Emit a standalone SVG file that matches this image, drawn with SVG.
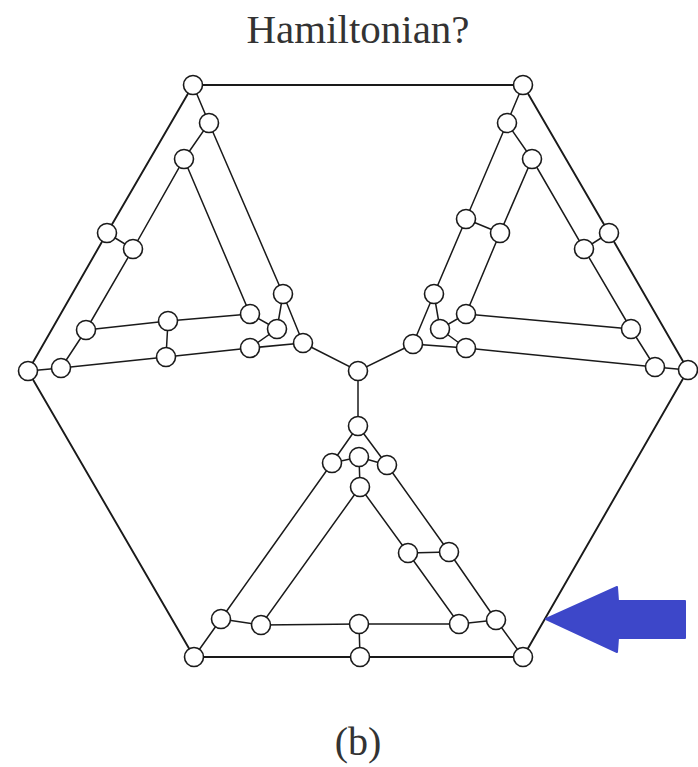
<svg xmlns="http://www.w3.org/2000/svg" width="698" height="767" viewBox="0 0 698 767">
<style>
.e{stroke:#1a1a1a;stroke-width:1.5;fill:none;stroke-linecap:round}
.o{stroke:#1a1a1a;stroke-width:1.9;fill:none}
.n circle{fill:#fff;stroke:#1a1a1a;stroke-width:1.6}
.t{font-family:"Liberation Serif","DejaVu Serif",serif;fill:#333;text-anchor:middle}
</style>
<rect width="698" height="767" fill="#fff"/>
<text class="t" x="358" y="43" font-size="40" textLength="223" lengthAdjust="spacingAndGlyphs">Hamiltonian?</text>
<text class="t" x="358" y="755" font-size="40">(b)</text>
<g id="connectors">
<!-- outer hexagon -->
<polyline class="o" points="193,85 523,85"/>
<polyline class="o" points="193,85 107,233 28,371 194,657 523,657 688,370 609,233 523,85"/>
<!-- center -->
<polyline class="e" points="303,343 358,371 413,344"/>
<polyline class="e" points="358,371 358,426"/>
<!-- top-left gadget -->
<polyline class="e" points="193,85 209,123 184,159 133,249 107,233"/>
<polyline class="e" points="209,123 283,294 303,343"/>
<polyline class="e" points="184,159 250,314 277,329 283,294"/>
<polyline class="e" points="133,249 86,330 61,368 28,371"/>
<polyline class="e" points="86,330 168,321 250,314"/>
<polyline class="e" points="168,321 166,357"/>
<polyline class="e" points="61,368 166,357 250,348 277,329"/>
<polyline class="e" points="250,348 303,343"/>
<!-- top-right gadget -->
<polyline class="e" points="523,85 507,123 532,159 584,249 609,233"/>
<polyline class="e" points="507,123 466,219 500,233 532,159"/>
<polyline class="e" points="466,219 434,294 413,344 466,348 655,367 688,370"/>
<polyline class="e" points="434,294 440,329 466,314 500,233"/>
<polyline class="e" points="440,329 466,348"/>
<polyline class="e" points="466,314 631,329 655,367"/>
<polyline class="e" points="584,249 631,329"/>
<!-- bottom gadget -->
<polyline class="e" points="358,426 332,463 221,619 194,657"/>
<polyline class="e" points="358,426 387,465 449,552 496,620 523,657"/>
<polyline class="e" points="332,463 359,457 387,465"/>
<polyline class="e" points="359,457 360,487 261,625 221,619"/>
<polyline class="e" points="360,487 408,553 449,552"/>
<polyline class="e" points="408,553 459,624 496,620"/>
<polyline class="e" points="261,625 359,624 459,624"/>
<polyline class="e" points="359,624 360,657"/>
</g>
<g class="n">
<g id="n1"><circle cx="193" cy="85" r="9.5"/></g>
<g id="n2"><circle cx="209" cy="123" r="9.5"/></g>
<g id="n3"><circle cx="184" cy="159" r="9.5"/></g>
<g id="n4"><circle cx="107" cy="233" r="9.5"/></g>
<g id="n5"><circle cx="133" cy="249" r="9.5"/></g>
<g id="n6"><circle cx="283" cy="294" r="9.5"/></g>
<g id="n7"><circle cx="250" cy="314" r="9.5"/></g>
<g id="n8"><circle cx="277" cy="329" r="9.5"/></g>
<g id="n9"><circle cx="303" cy="343" r="9.5"/></g>
<g id="n10"><circle cx="86" cy="330" r="9.5"/></g>
<g id="n11"><circle cx="168" cy="321" r="9.5"/></g>
<g id="n12"><circle cx="166" cy="357" r="9.5"/></g>
<g id="n13"><circle cx="250" cy="348" r="9.5"/></g>
<g id="n14"><circle cx="61" cy="368" r="9.5"/></g>
<g id="n15"><circle cx="28" cy="371" r="9.5"/></g>
<g id="n16"><circle cx="358" cy="371" r="9.5"/></g>
<g id="n17"><circle cx="523" cy="85" r="9.5"/></g>
<g id="n18"><circle cx="507" cy="123" r="9.5"/></g>
<g id="n19"><circle cx="532" cy="159" r="9.5"/></g>
<g id="n20"><circle cx="609" cy="233" r="9.5"/></g>
<g id="n21"><circle cx="584" cy="249" r="9.5"/></g>
<g id="n22"><circle cx="466" cy="219" r="9.5"/></g>
<g id="n23"><circle cx="500" cy="233" r="9.5"/></g>
<g id="n24"><circle cx="434" cy="294" r="9.5"/></g>
<g id="n25"><circle cx="466" cy="314" r="9.5"/></g>
<g id="n26"><circle cx="440" cy="329" r="9.5"/></g>
<g id="n27"><circle cx="413" cy="344" r="9.5"/></g>
<g id="n28"><circle cx="466" cy="348" r="9.5"/></g>
<g id="n29"><circle cx="631" cy="329" r="9.5"/></g>
<g id="n30"><circle cx="655" cy="367" r="9.5"/></g>
<g id="n31"><circle cx="688" cy="370" r="9.5"/></g>
<g id="n32"><circle cx="358" cy="426" r="9.5"/></g>
<g id="n33"><circle cx="332" cy="463" r="9.5"/></g>
<g id="n34"><circle cx="359" cy="457" r="9.5"/></g>
<g id="n35"><circle cx="387" cy="465" r="9.5"/></g>
<g id="n36"><circle cx="360" cy="487" r="9.5"/></g>
<g id="n37"><circle cx="408" cy="553" r="9.5"/></g>
<g id="n38"><circle cx="449" cy="552" r="9.5"/></g>
<g id="n39"><circle cx="221" cy="619" r="9.5"/></g>
<g id="n40"><circle cx="261" cy="625" r="9.5"/></g>
<g id="n41"><circle cx="359" cy="624" r="9.5"/></g>
<g id="n42"><circle cx="459" cy="624" r="9.5"/></g>
<g id="n43"><circle cx="496" cy="620" r="9.5"/></g>
<g id="n44"><circle cx="194" cy="657" r="9.5"/></g>
<g id="n45"><circle cx="360" cy="657" r="9.5"/></g>
<g id="n46"><circle cx="523" cy="657" r="9.5"/></g>
</g>
<g id="arrow"><path d="M546,619 L617,587 L618,601 L685,601 L685,638 L618,638 L617,652 Z" fill="#3d47c9" stroke="#3d47c9" stroke-width="2" stroke-linejoin="round"/></g>
</svg>
